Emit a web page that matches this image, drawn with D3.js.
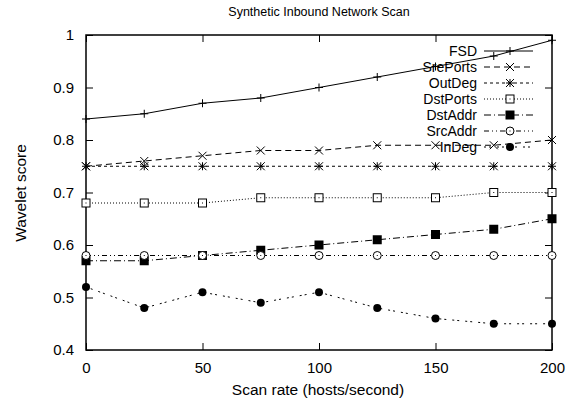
<!DOCTYPE html>
<html><head><meta charset="utf-8">
<script src="https://cdn.jsdelivr.net/npm/d3@7"></script>
<style>body{margin:0;background:#fff}svg{display:block}text{font-family:"Liberation Sans",Arial,sans-serif;fill:#000}</style>
</head><body>
<script>
const xValues = [0,25,50,75,100,125,150,175,200];
const seriesNames = ["FSD","SrePorts","OutDeg","DstPorts","DstAddr","SrcAddr","InDeg"];
const FSD      = [0.84,0.85,0.87,0.88,0.90,0.92,0.94,0.96,0.99];
const SrePorts = [0.75,0.76,0.77,0.78,0.78,0.79,0.79,0.79,0.80];
const OutDeg   = [0.75,0.75,0.75,0.75,0.75,0.75,0.75,0.75,0.75];
const DstPorts = [0.68,0.68,0.68,0.69,0.69,0.69,0.69,0.70,0.70];
const DstAddr  = [0.57,0.57,0.58,0.59,0.60,0.61,0.62,0.63,0.65];
const SrcAddr  = [0.58,0.58,0.58,0.58,0.58,0.58,0.58,0.58,0.58];
const InDeg    = [0.52,0.48,0.51,0.49,0.51,0.48,0.46,0.45,0.45];
const xTicks = [0,50,100,150,200];
const yTicks = [0.4,0.5,0.6,0.7,0.8,0.9,1];
const title = "Synthetic Inbound Network Scan";
const xLabel = "Scan rate (hosts/second)";
const yLabel = "Wavelet score";

const seriesValues = [FSD,SrePorts,OutDeg,DstPorts,DstAddr,SrcAddr,InDeg];
const styles = [
  {dash:null, marker:"plus"},
  {dash:"6,4", marker:"cross"},
  {dash:"3,3", marker:"star"},
  {dash:"1,2", marker:"sqdot"},
  {dash:"7,3,1,3", marker:"fsq"},
  {dash:"5,3,1,3,1,3", marker:"circdot"},
  {dash:"2,3,2,6", marker:"fcirc"}
];

const W=568,H=404;
const m={l:86,r:552,t:35,b:350};
const svg=d3.select("body").append("svg").attr("width",W).attr("height",H);
const x=d3.scaleLinear().domain([0,200]).range([m.l,m.r]);
const y=d3.scaleLinear().domain([0.4,1]).range([m.b,m.t]);

const tl=7;
svg.append("g").attr("transform",`translate(0,${m.b})`)
  .call(d3.axisBottom(x).tickValues(xTicks).tickSize(-tl).tickPadding(12).tickFormat(d3.format("d")))
  .call(g=>{g.select(".domain").remove();g.selectAll("text").attr("font-size",15).attr("dy","0.71em");});
svg.append("g").attr("transform",`translate(0,${m.t})`)
  .call(d3.axisTop(x).tickValues(xTicks).tickSize(-tl).tickFormat(""))
  .call(g=>g.select(".domain").remove());
svg.append("g").attr("transform",`translate(${m.l},0)`)
  .call(d3.axisLeft(y).tickValues(yTicks).tickSize(-tl).tickPadding(12).tickFormat(d=>d3.format("")(+d.toFixed(1))))
  .call(g=>{g.select(".domain").remove();g.selectAll("text").attr("font-size",15);});
svg.append("g").attr("transform",`translate(${m.r},0)`)
  .call(d3.axisRight(y).tickValues(yTicks).tickSize(-tl).tickFormat(""))
  .call(g=>g.select(".domain").remove());
svg.selectAll(".tick line").attr("stroke","#000");
svg.selectAll(".tick text").attr("font-family","'Liberation Sans',Arial,sans-serif");

svg.append("rect").attr("x",m.l).attr("y",m.t).attr("width",m.r-m.l).attr("height",m.b-m.t)
  .attr("fill","none").attr("stroke","#000").attr("stroke-width",1.5);

function marker(g,type,cx,cy){
  const s=4;
  const ln=(x1,y1,x2,y2)=>g.append("line").attr("x1",cx+x1).attr("y1",cy+y1).attr("x2",cx+x2).attr("y2",cy+y2).attr("stroke","#000").attr("stroke-width",1);
  if(type==="plus"){ln(-s,0,s,0);ln(0,-s,0,s);}
  else if(type==="cross"){ln(-s,-s,s,s);ln(-s,s,s,-s);}
  else if(type==="star"){ln(-s,0,s,0);ln(0,-s,0,s);ln(-s,-s,s,s);ln(-s,s,s,-s);}
  else if(type==="sqdot"){g.append("rect").attr("x",cx-s).attr("y",cy-s).attr("width",2*s).attr("height",2*s).attr("fill","#fff").attr("stroke","#000");
    g.append("rect").attr("x",cx-0.5).attr("y",cy-0.5).attr("width",1).attr("height",1).attr("fill","#000");}
  else if(type==="fsq"){g.append("rect").attr("x",cx-s-0.5).attr("y",cy-s-0.5).attr("width",2*s+1).attr("height",2*s+1).attr("fill","#000");}
  else if(type==="circdot"){g.append("circle").attr("cx",cx).attr("cy",cy).attr("r",s).attr("fill","#fff").attr("stroke","#000");
    g.append("rect").attr("x",cx-0.5).attr("y",cy-0.5).attr("width",1).attr("height",1).attr("fill","#000");}
  else if(type==="fcirc"){g.append("circle").attr("cx",cx).attr("cy",cy).attr("r",s).attr("fill","#000");}
}

const line=d3.line().x((d,i)=>x(xValues[i])).y(d=>y(d));
const plot=svg.append("g");
seriesValues.forEach((vals,k)=>{
  const g=plot.append("g");
  g.append("path").datum(vals).attr("d",line).attr("fill","none").attr("stroke","#000").attr("stroke-width",1)
    .attr("stroke-dasharray",styles[k].dash);
  vals.forEach((v,i)=>marker(g,styles[k].marker,x(xValues[i]),y(v)));
});

const lg=svg.append("g");
seriesNames.forEach((n,k)=>{
  const yy=51+k*16;
  lg.append("text").attr("x",477).attr("y",yy).attr("dy","0.35em").attr("text-anchor","end").attr("font-size",14).text(n);
  lg.append("line").attr("x1",484).attr("x2",533).attr("y1",yy).attr("y2",yy).attr("stroke","#000").attr("stroke-width",1)
    .attr("stroke-dasharray",styles[k].dash);
  marker(lg,styles[k].marker,510,yy);
});

svg.append("text").attr("x",319).attr("y",16).attr("text-anchor","middle").attr("font-size",12.5).text(title);
svg.append("text").attr("x",318).attr("y",395).attr("text-anchor","middle").attr("font-size",15.5).text(xLabel);
svg.append("text").attr("transform","translate(26,193) rotate(-90)").attr("text-anchor","middle").attr("font-size",15.5).text(yLabel);
</script>
</body></html>
